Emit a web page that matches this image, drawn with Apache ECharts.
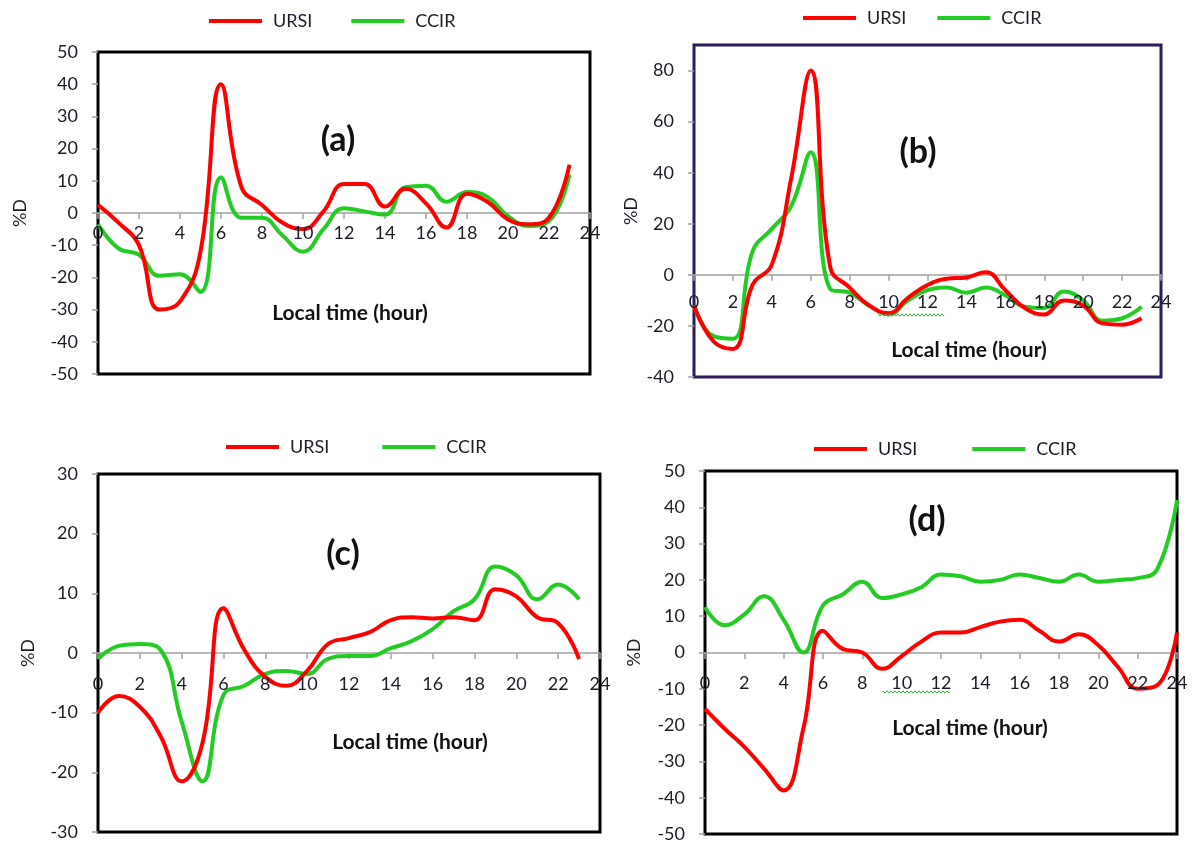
<!DOCTYPE html>
<html>
<head>
<meta charset="utf-8">
<script src="https://cdn.jsdelivr.net/npm/echarts@6/dist/echarts.min.js"></script>
<style>
html,body{margin:0;padding:0;background:#fff;overflow:hidden;}
#chart{width:1201px;height:843px;}
</style>
</head>
<body>
<div id="chart"></div>
<script>
// ---- data (local time in hours, %D deviation) ----
const hours = [0,1,2,3,4,5,6,7,8,9,10,11,12,13,14,15,16,17,18,19,20,21,22,23];
const hoursD = [0,1,2,3,4,5,6,7,8,9,10,11,12,13,14,15,16,17,18,19,20,21,22,23,24];
const xTicks = [0,2,4,6,8,10,12,14,16,18,20,22,24];

const ursiA = [2.5,-3,-10,-30,-27.5,-12,40,8,2.5,-3,-5,0.5,9,9,2,7.5,3,-4.5,6,3.5,-2,-3.5,-1.5,15];
const ccirA = [-3.5,-11,-13,-19.5,-19,-24.5,11,-1.5,-1.5,-7,-12,-5,1.5,0.5,-0.5,8,8.5,3.5,6.5,5,-1,-4,-2.5,12];

const ursiB = [-12,-26,-29,-4,4,38,80,3,-5,-12,-15,-9,-4,-1.5,-1,1,-6,-13,-15.5,-10,-12,-19,-19.5,-17];
const ccirB = [-12,-24,-25,9,18,27,48,-5.5,-7,-12,-15.5,-10,-6,-5,-7,-5,-8,-12.5,-13,-6.5,-10,-18,-17,-12.5];

const ursiC = [-10,-7.2,-9,-14,-21.5,-15,7.5,0.5,-4,-5.5,-3,1.5,2.5,3.5,5.5,6,5.8,6,5.5,10.7,9.5,6,5,-1];
const ccirC = [-1,1.2,1.5,0.5,-11.5,-21.5,-7,-5.5,-3.5,-3,-3.5,-1,-0.5,-0.5,0.8,2,4,7,9,14.5,13,9,11.5,9];

const ursiD = [-15.5,-21,-26,-32,-38,-21,6,1,0,-4.5,-1,3,5.5,5.5,7,8.5,9,6,3,5,2,-4,-10,-9,5.5];
const ccirD = [12.5,7.5,10.5,15.5,9,0,13,16,19.5,15,16,18,21.5,21,19.5,20,21.5,20.5,19.5,21.5,19.5,20,20.5,23,42];

const panelLetters = ['(a)','(b)','(c)','(d)'];
const seriesNames = ['URSI','CCIR'];
const xTitle = 'Local time (hour)';
const yTitle = '%D';

// ---- styles / layout ----
const RED = '#ff0000', GREEN = '#22cc22', TXT = '#1c1c28', GREY = '#a3a3a3';
const FONT = 'Lato, "Open Sans", "Liberation Sans", sans-serif';

const panels = [
  {grid:{left:98,top:52,width:492,height:322}, ymin:-50,ymax:50,yint:10, border:'#000', xs:hours, u:ursiA, c:ccirA,
   labelDy:20, nameGap:69, legend:{left:204,top:7,gap:39}, letter:[338,140], xt:[350,313]},
  {grid:{left:694,top:45,width:467,height:332}, ymin:-40,ymax:90,yint:20, border:'#2d1b5c', xs:hours, u:ursiB, c:ccirB,
   labelDy:27, nameGap:54, legend:{left:798,top:4,gap:31}, letter:[918,152], xt:[969,350], hideMax:true, squiggle:[878,945,315]},
  {grid:{left:98,top:474,width:502,height:358}, ymin:-30,ymax:30,yint:10, border:'#000', xs:hours, u:ursiC, c:ccirC,
   labelDy:31, nameGap:61, legend:{left:221,top:433,gap:53}, letter:[343,554], xt:[410,742]},
  {grid:{left:705,top:471,width:472,height:364}, ymin:-50,ymax:50,yint:10, border:'#000', xs:hoursD, u:ursiD, c:ccirD,
   labelDy:31, nameGap:62, legend:{left:809,top:435,gap:55}, letter:[927,520], xt:[970,728], squiggle:[883,949,692]}
];

const pairs = (xs, ys) => ys.map((v, i) => [xs[i], v]);

// main grids (framed plot areas) + helper grids whose bottom edge is the y = 0 line (carry the hour axis line/ticks)
const grids = panels.map(p => Object.assign({show:true, borderColor:p.border, borderWidth:3, backgroundColor:'transparent', containLabel:false}, p.grid))
  .concat(panels.map(p => ({show:false, containLabel:false, left:p.grid.left, width:p.grid.width, top:p.grid.top,
                             height:p.grid.height * (p.ymax - 0) / (p.ymax - p.ymin)})));

const xAxes = panels.map((p, i) => ({type:'value', gridIndex:i, min:0, max:24, interval:2, show:false}))
  .concat(panels.map((p, i) => ({
    type:'value', gridIndex:4 + i, min:0, max:24, interval:2, position:'bottom',
    axisLine:{show:true, onZero:false, lineStyle:{color:GREY, width:1.5}},
    axisTick:{show:true, length:6, lineStyle:{color:GREY, width:1.5}},
    axisLabel:{show:false},
    splitLine:{show:false}
  })));

const yAxes = panels.map((p, i) => ({
    type:'value', gridIndex:i, min:p.ymin, max:p.ymax, interval:p.yint,
    name:yTitle, nameLocation:'middle', nameGap:p.nameGap, nameRotate:90,
    nameTextStyle:{color:TXT, fontSize:18, fontFamily:FONT},
    axisLine:{show:false},
    axisTick:{show:true, length:6, lineStyle:{color:GREY, width:1.5}},
    axisLabel:{margin:20, color:TXT, fontSize:18, fontFamily:FONT, showMaxLabel: p.hideMax ? false : true},
    splitLine:{show:false}
  })).concat(panels.map((p, i) => ({type:'value', gridIndex:4 + i, min:0, max:p.ymax, show:false})));

const option = {
  backgroundColor:'#fff',
  animation:false,
  grid: grids,
  xAxis: xAxes,
  yAxis: yAxes,
  legend: panels.map(p => ({
    data:seriesNames, left:p.legend.left, top:p.legend.top, itemGap:p.legend.gap,
    itemWidth:53, itemHeight:4, icon:'rect',
    textStyle:{color:TXT, fontSize:18, fontFamily:FONT, padding:[0,0,0,6]}
  })),
  series: []
};

panels.forEach((p, i) => {
  option.series.push({
    name:seriesNames[0], type:'line', xAxisIndex:i, yAxisIndex:i, data:pairs(p.xs, p.u),
    smooth:0.45, symbol:'none', lineStyle:{color:RED, width:4}, itemStyle:{color:RED}, z:3
  });
  option.series.push({
    name:seriesNames[1], type:'line', xAxisIndex:i, yAxisIndex:i, data:pairs(p.xs, p.c),
    smooth:0.45, symbol:'none', lineStyle:{color:GREEN, width:4}, itemStyle:{color:GREEN}, z:2
  });
});

const chart = echarts.init(document.getElementById('chart'), null, {renderer:'canvas'});
chart.setOption(option);

// texts: hour tick labels placed through the panel's own scales, titles, panel letters
const graphic = [];
panels.forEach((p, i) => {
  xTicks.forEach(t => {
    const pt = chart.convertToPixel({xAxisIndex:i, yAxisIndex:i}, [t, 0]);
    graphic.push({type:'text', x:pt[0], y:pt[1] + p.labelDy, z:10, silent:true,
      style:{text:String(t), fill:TXT, font:'18px ' + FONT, textAlign:'center', textVerticalAlign:'middle'}});
  });
  graphic.push({type:'text', x:p.letter[0], y:p.letter[1], z:10,
    style:{text:panelLetters[i], fill:'#111', font:'bold 34px ' + FONT, textAlign:'center', textVerticalAlign:'middle'}});
  graphic.push({type:'text', x:p.xt[0], y:p.xt[1], z:10,
    style:{text:xTitle, fill:'#111', font:'bold 21px ' + FONT, textAlign:'center', textVerticalAlign:'middle'}});
  if (p.squiggle) {
    // spell-check style wavy underline decoration
    const pts = [];
    for (let x = p.squiggle[0], k = 0; x <= p.squiggle[1]; x += 2, k++) {
      pts.push([x, p.squiggle[2] + (k % 2 ? 1.2 : -1.2)]);
    }
    graphic.push({type:'polyline', z:10, shape:{points:pts}, style:{stroke:'#3cb043', lineWidth:1, fill:null}});
  }
});
chart.setOption({graphic: graphic});
</script>
</body>
</html>
